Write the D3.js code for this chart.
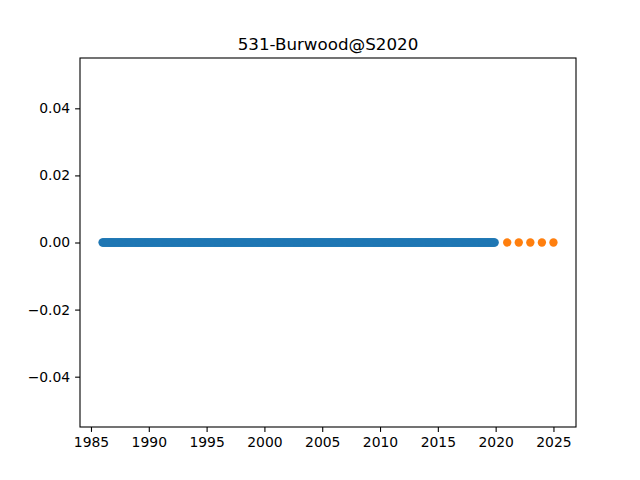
<!DOCTYPE html>
<html>
<head>
<meta charset="utf-8">
<script src="https://cdn.jsdelivr.net/npm/d3@7"></script>
<style>
  body { margin: 0; background: #fff; }
  text { font-family: "DejaVu Sans", sans-serif; }
</style>
</head>
<body>
<script>
// history: monthly observations, all zero
const histYears = [1986,1987,1988,1989,1990,1991,1992,1993,1994,1995,1996,1997,
  1998,1999,2000,2001,2002,2003,2004,2005,2006,2007,2008,2009,2010,2011,2012,
  2013,2014,2015,2016,2017,2018,2019]
const histMonths = [1,2,3,4,5,6,7,8,9,10,11,12]
const histValue = 0

// forecast: yearly points
const forecastYears = [2021, 2022, 2023, 2024, 2025]
const forecastValues = [0, 0, 0, 0, 0]

const xTicks = [1985, 1990, 1995, 2000, 2005, 2010, 2015, 2020, 2025]
const yTicks = [-0.04, -0.02, 0.00, 0.02, 0.04]
const chartTitle = "531-Burwood@S2020"

const history = []
histYears.forEach(y => histMonths.forEach(m => {
    history.push({t: y + (m - 1) / 12, v: histValue})
}))
const forecast = forecastYears.map((y, i) => ({t: y, v: forecastValues[i]}))

const W = 640, H = 480
const margin = {left: 80, right: 64, top: 58, bottom: 53}

const svg = d3.select("body")
              .append("svg")
              .attr("width", W)
              .attr("height", H)

const allT = history.map(d => d.t).concat(forecast.map(d => d.t))
const tMin = d3.min(allT), tMax = d3.max(allT)
const pad = (tMax - tMin) * 0.05

const x = d3.scaleLinear()
            .domain([tMin - pad, tMax + pad])
            .range([margin.left, W - margin.right])

const y = d3.scaleLinear()
            .domain([-0.055, 0.055])
            .range([H - margin.bottom, margin.top])

const xAxis = svg.append("g")
   .attr("transform", "translate(0," + (H - margin.bottom) + ")")
   .call(d3.axisBottom(x).tickValues(xTicks).tickFormat(d3.format("d")).tickSize(4.9).tickPadding(4.9))

const yAxis = svg.append("g")
   .attr("transform", "translate(" + margin.left + ",0)")
   .call(d3.axisLeft(y).tickValues(yTicks).tickFormat(d => d === 0 ? "0.00" : d3.format(".2f")(d).replace("-", "\u2212")).tickSize(4.9).tickPadding(4.9))

;[xAxis, yAxis].forEach(a => {
    a.select(".domain").remove()
    a.selectAll("text").style("font-size", "13.9px").attr("fill", "#000")
    a.selectAll("line").attr("stroke", "#000").attr("stroke-width", 1.1)
})

svg.append("rect")
   .attr("x", margin.left)
   .attr("y", margin.top)
   .attr("width", W - margin.left - margin.right)
   .attr("height", H - margin.top - margin.bottom)
   .attr("fill", "none")
   .attr("stroke", "#000")
   .attr("stroke-width", 1.1)

svg.append("g").selectAll("circle")
   .data(history)
   .enter()
   .append("circle")
   .attr("cx", d => x(d.t))
   .attr("cy", d => y(d.v))
   .attr("r", 4.17)
   .attr("fill", "#1f77b4")

svg.append("g").selectAll("circle")
   .data(forecast)
   .enter()
   .append("circle")
   .attr("cx", d => x(d.t))
   .attr("cy", d => y(d.v))
   .attr("r", 4.17)
   .attr("fill", "#ff7f0e")

svg.append("text")
   .attr("x", (margin.left + W - margin.right) / 2)
   .attr("y", margin.top - 8)
   .attr("text-anchor", "middle")
   .style("font-size", "16.7px")
   .text(chartTitle)
</script>
</body>
</html>
